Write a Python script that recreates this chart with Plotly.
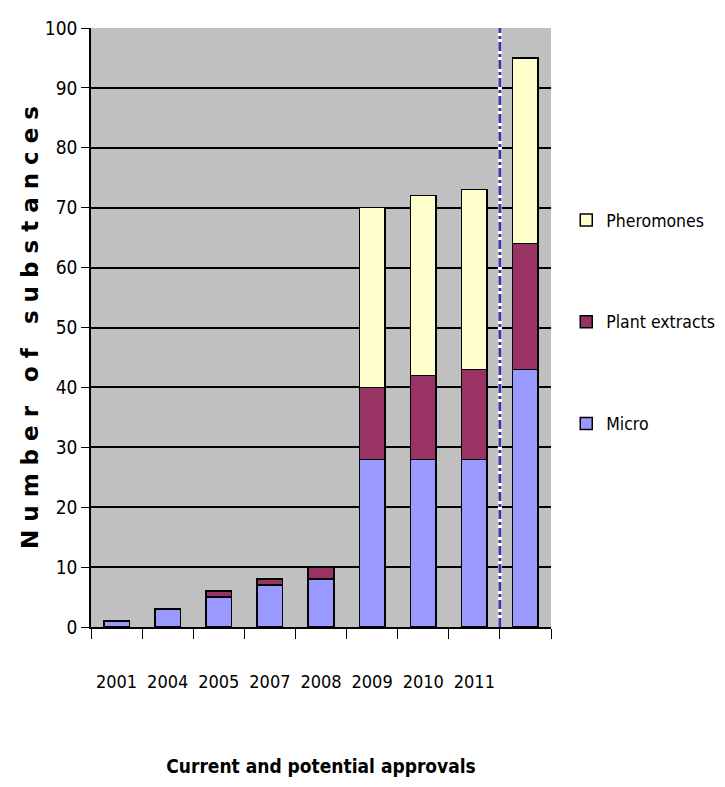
import plotly.graph_objects as go

categories = ["2001", "2004", "2005", "2007", "2008", "2009", "2010", "2011", " "]
micro = [1, 3, 5, 7, 8, 28, 28, 28, 43]
plant_extracts = [0, 0, 1, 1, 2, 12, 14, 15, 21]
pheromones = [0, 0, 0, 0, 0, 30, 30, 30, 31]

font_narrow = "DejaVu Sans Condensed, Liberation Sans Narrow, Arial Narrow, sans-serif"

fig = go.Figure()
series = [("Micro", micro, "#9999FF", 3), ("Plant extracts", plant_extracts, "#993366", 2),
          ("Pheromones", pheromones, "#FFFFCC", 1)]
for name, vals, col, rank in series:
    fig.add_trace(go.Bar(x=categories, y=vals, name=name, legendgroup=name, legendrank=rank,
                         marker=dict(color=col, line=dict(color="black", width=1.5))))

fig.add_shape(type="line", xref="x", yref="y", x0=7.5, x1=7.5, y0=0, y1=100,
              line=dict(color="white", width=4))
fig.add_shape(type="line", xref="x", yref="y", x0=7.5, x1=7.5, y0=0, y1=100,
              line=dict(color="#3838A8", width=3, dash="dashdot"))

fig.update_layout(
    width=725, height=787,
    barmode="stack", bargap=0.5,
    plot_bgcolor="#C0C0C0", paper_bgcolor="white",
    margin=dict(l=83, r=182, t=20, b=168, autoexpand=False),
    font=dict(family=font_narrow, color="black", size=18),
    legend=dict(xref="container", yref="container", x=0.77, y=0.601,
                xanchor="left", yanchor="middle",
                traceorder="grouped", tracegroupgap=76,
                font=dict(family=font_narrow, size=17.5), itemwidth=30),
    xaxis=dict(type="category", tickson="boundaries", ticks="outside", ticklen=10,
               tickcolor="black", showline=True, linecolor="black", linewidth=1.5,
               tickangle=0, ticklabelstandoff=38, tickfont=dict(size=18, family=font_narrow),
               title=dict(text="<b>Current and potential approvals</b>", standoff=68,
                          font=dict(size=19, family=font_narrow))),
    yaxis=dict(range=[0, 100], dtick=10, showgrid=True, gridcolor="black", gridwidth=2,
               ticks="outside", ticklen=8, tickcolor="black", showline=True,
               linecolor="black", linewidth=1.5, zeroline=False,
               tickfont=dict(size=19, family=font_narrow),
               title=dict(text="<b>N u m b e r   o f   s u b s t a n c e s</b>", standoff=0,
                          font=dict(size=23, family="DejaVu Sans, Arial, sans-serif"))),
)

fig.write_html("out.html")
